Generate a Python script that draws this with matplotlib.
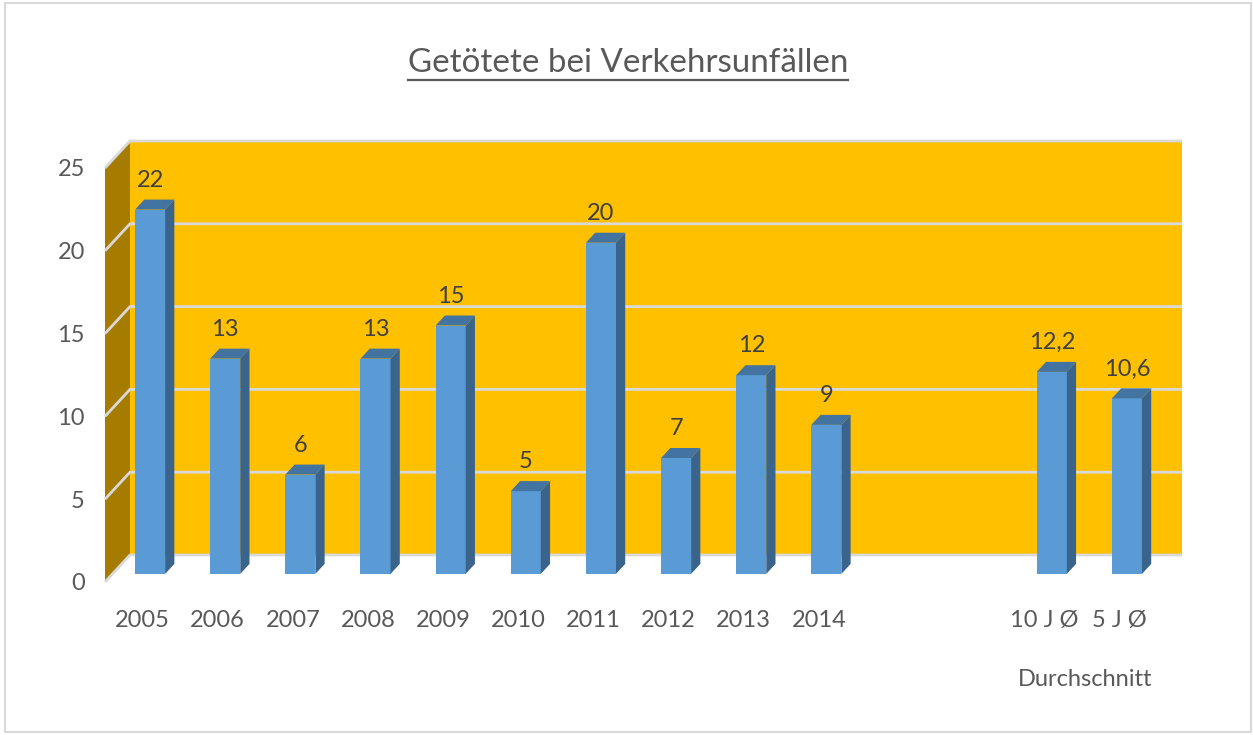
import numpy as np
import matplotlib.pyplot as plt
from matplotlib import font_manager
from matplotlib.patches import Polygon, Rectangle
from matplotlib.lines import Line2D

# data
categories = ['2005', '2006', '2007', '2008', '2009', '2010', '2011', '2012', '2013', '2014', '10 J Ø', '5 J Ø']
values = [22, 13, 6, 13, 15, 5, 20, 7, 12, 9, 12.2, 10.6]
positions = [0, 1, 2, 3, 4, 5, 6, 7, 8, 9, 12, 13]
group_label = 'Durchschnitt'
title = 'Getötete bei Verkehrsunfällen'


def pick_font(names):
    have = {f.name for f in font_manager.fontManager.ttflist}
    for n in names:
        if n in have:
            return n
    return 'DejaVu Sans'


plt.rcParams['font.family'] = pick_font(['Liberation Sans Narrow', 'Lato', 'Open Sans'])
FS = 17

W, H = 1253, 735
fig = plt.figure(figsize=(W / 100, H / 100), dpi=100)

# front plane of the 3d box, in pixels
px0, px1 = 105, 1157
py0, py1 = 582, 168
ax = fig.add_axes([px0 / W, 1 - py0 / H, (px1 - px0) / W, (py0 - py1) / H])
ax.set_xlim(-0.5, 13.5)
ax.set_ylim(0, 25)
ax.patch.set_visible(False)
for s in ax.spines.values():
    s.set_visible(False)

# oblique depth offset (full depth of the box) in data units
DX = 25 / ((px1 - px0) / 14)
DY = 27 / ((py0 - py1) / 25)


def proj(x, v, z):
    return (x + z * DX, v + z * DY)


xl, xr, vmax = -0.5, 13.5, 25

# walls
back = [proj(xl, 0, 1), proj(xr, 0, 1), proj(xr, vmax, 1), proj(xl, vmax, 1)]
side = [proj(xl, 0, 0), proj(xl, 0, 1), proj(xl, vmax, 1), proj(xl, vmax, 0)]
ax.add_patch(Polygon(back, closed=True, fc='#ffc000', ec='none', zorder=0, clip_on=False))
ax.add_patch(Polygon(side, closed=True, fc='#a67c00', ec='none', zorder=0, clip_on=False))

# gridlines on side + back wall
for v in range(0, 26, 5):
    pts = [proj(xl, v, 0), proj(xl, v, 1), proj(xr, v, 1)]
    ax.plot([p[0] for p in pts], [p[1] for p in pts], color='#d9d9d9', lw=2,
            zorder=1, clip_on=False, solid_capstyle='butt')

# bars: front face at depth z0, back at z1
z0, z1 = 0.3, 0.67
bw = 0.4
pos = np.array(positions, dtype=float)
vals = np.array(values, dtype=float)
ax.bar(pos + z0 * DX, vals, width=bw, bottom=z0 * DY, color='#5b9bd5', zorder=3, clip_on=False)
for x, v in zip(pos, vals):
    a, b = x - bw / 2, x + bw / 2
    side_face = [proj(b, 0, z0), proj(b, 0, z1), proj(b, v, z1), proj(b, v, z0)]
    top_face = [proj(a, v, z0), proj(b, v, z0), proj(b, v, z1), proj(a, v, z1)]
    ax.add_patch(Polygon(side_face, closed=True, fc='#3a648c', ec='none', zorder=3, clip_on=False))
    ax.add_patch(Polygon(top_face, closed=True, fc='#4373a0', ec='none', zorder=3, clip_on=False))
    lab = ('%g' % v).replace('.', ',')
    ax.annotate(lab, proj(x, v, z0), xytext=(0, 16.5), textcoords='offset points',
                ha='center', va='baseline', fontsize=FS, color='#404040', zorder=4)

# axes labels
ax.set_yticks(range(0, 26, 5))
ax.set_xticks(positions)
ax.set_xticklabels(categories)
ax.tick_params(axis='y', length=0, pad=14.5, labelsize=FS, labelcolor='#595959')
ax.tick_params(axis='x', length=0, pad=20, labelsize=FS, labelcolor='#595959')
ax.annotate(group_label, (12.5, 0), xytext=(2, -70.5), textcoords='offset points',
            ha='center', va='center', fontsize=FS, color='#595959', annotation_clip=False)

# title with underline, scaled to about the reference width
t = fig.text(628 / W, 1 - 72 / H, title, ha='center', va='baseline', fontsize=27, color='#595959')
fig.canvas.draw()
w = t.get_window_extent().width
t.set_fontsize(27 * 440 / w)
fig.canvas.draw()
bb = t.get_window_extent()
uy = 1 - 80 / H
fig.add_artist(Line2D([bb.x0 / W, bb.x1 / W], [uy, uy], color='#595959', lw=1.6))

# chart frame
fig.add_artist(Rectangle((5 / W, 3 / H), 1246 / W, 729 / H, transform=fig.transFigure,
                         fill=False, ec='#d9d9d9', lw=1.5))

fig.savefig('out.png', dpi=100)
